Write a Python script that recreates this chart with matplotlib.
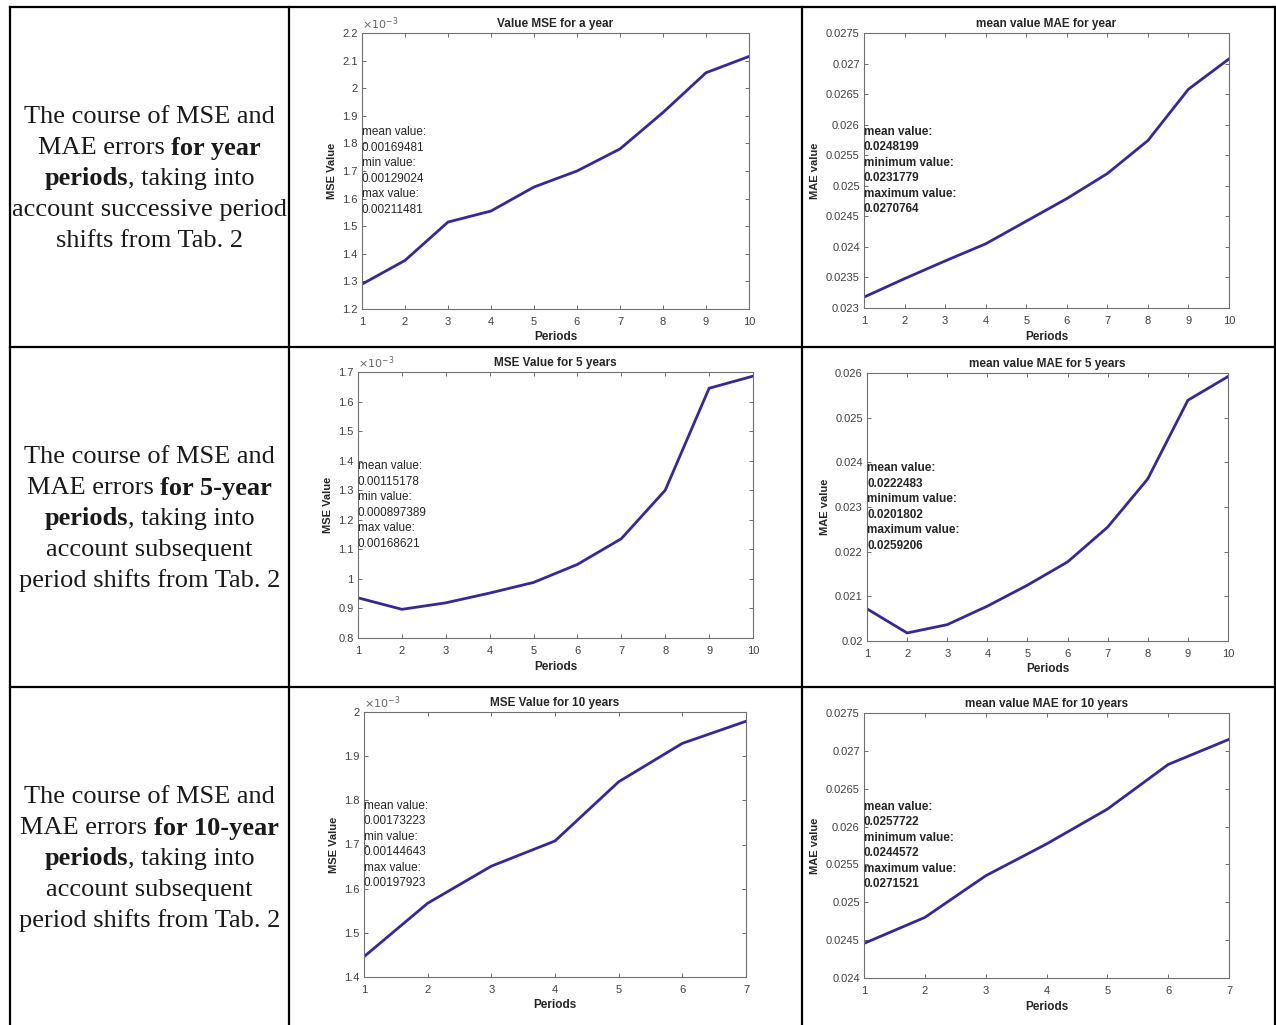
import numpy as np
import matplotlib
matplotlib.use("Agg")
import matplotlib.pyplot as plt
from matplotlib.lines import Line2D
from matplotlib.ticker import FuncFormatter

# data
periods_10 = [1, 2, 3, 4, 5, 6, 7, 8, 9, 10]
periods_7 = [1, 2, 3, 4, 5, 6, 7]

mse_1y = [0.001290, 0.001376, 0.001515, 0.001555, 0.001642, 0.001700, 0.001780, 0.001912, 0.002056, 0.002115]
mae_1y = [0.023178, 0.023480, 0.023770, 0.024050, 0.024420, 0.024790, 0.025200, 0.025740, 0.026580, 0.027076]
mse_5y = [0.000936, 0.000897, 0.000919, 0.000952, 0.000988, 0.001049, 0.001136, 0.001300, 0.001645, 0.001686]
mae_5y = [0.020720, 0.020180, 0.020366, 0.020780, 0.021250, 0.021770, 0.022550, 0.023630, 0.025390, 0.025921]
mse_10y = [0.001446, 0.001567, 0.001651, 0.001708, 0.001842, 0.001929, 0.001979]
mae_10y = [0.024457, 0.024800, 0.025350, 0.025770, 0.026230, 0.026820, 0.027152]

mse_stats_1y = ["0.00169481", "0.00129024", "0.00211481"]
mae_stats_1y = ["0.0248199", "0.0231779", "0.0270764"]
mse_stats_5y = ["0.00115178", "0.000897389", "0.00168621"]
mae_stats_5y = ["0.0222483", "0.0201802", "0.0259206"]
mse_stats_10y = ["0.00173223", "0.00144643", "0.00197923"]
mae_stats_10y = ["0.0257722", "0.0244572", "0.0271521"]

row_labels = [
    [[("The course of MSE and", False)],
     [("MAE errors ", False), ("for year", True)],
     [("periods", True), (", taking into", False)],
     [("account successive period", False)],
     [("shifts from Tab. 2", False)]],
    [[("The course of MSE and", False)],
     [("MAE errors ", False), ("for 5-year", True)],
     [("periods", True), (", taking into", False)],
     [("account subsequent", False)],
     [("period shifts from Tab. 2", False)]],
    [[("The course of MSE and", False)],
     [("MAE errors ", False), ("for 10-year", True)],
     [("periods", True), (", taking into", False)],
     [("account subsequent", False)],
     [("period shifts from Tab. 2", False)]],
]

W, H = 1276, 1025
plt.rcParams['font.family'] = ['Liberation Sans', 'DejaVu Sans']
fig = plt.figure(figsize=(W / 100, H / 100), dpi=100)

line_col = '#3b259c'
txt_col = '#262626'


def px_rect(l, r, t, b):
    return [l / W, 1 - b / H, (r - l) / W, (b - t) / H]


def make_plot(rect, x, y, title, ylabel, ylim, yticks, stats, kind):
    ax = fig.add_axes(rect)
    if kind == 'mse':
        ax.plot(x, np.array(y) * 1e3, color=line_col, lw=2)
        ax.set_ylim(ylim[0] * 1e3, ylim[1] * 1e3)
        ax.set_yticks(np.array(yticks) * 1e3)
        ax.yaxis.set_major_formatter(FuncFormatter(lambda v, p: '%g' % round(v, 4)))
        ax.text(0, 1.004, r'$\times10^{-3}$', transform=ax.transAxes, fontsize=8,
                color='#666666', ha='left', va='bottom')
        names = ["mean value:", "min value:", "max value:"]
        weight = 'normal'
    else:
        ax.plot(x, y, color=line_col, lw=2)
        ax.set_ylim(*ylim)
        ax.set_yticks(yticks)
        ax.yaxis.set_major_formatter(FuncFormatter(lambda v, p: '%g' % round(v, 6)))
        names = ["mean value:", "minimum value:", "maximum value:"]
        weight = 'bold'
    ax.set_xlim(x[0], x[-1])
    ax.set_xticks(x)
    ax.set_title(title, fontsize=8.5, fontweight='bold', color=txt_col, pad=4)
    ax.set_xlabel('Periods', fontsize=8.5, fontweight='bold', color=txt_col, labelpad=3)
    ax.set_ylabel(ylabel, fontsize=8, fontweight='bold', color=txt_col, labelpad=4)
    ax.tick_params(direction='in', top=True, right=True, labelsize=8,
                   labelcolor='#404040', color='#555555', length=3, width=0.6, pad=3)
    ax.tick_params(axis='x', pad=6)
    for s in ax.spines.values():
        s.set_color('#707070')
        s.set_linewidth(0.8)
    lines = []
    for n, v in zip(names, stats):
        lines += [n, v]
    ax.text(0, 0.5, '\n'.join(lines), transform=ax.transAxes, ha='left', va='center',
            fontsize=8.5, fontweight=weight, color=txt_col, linespacing=1.38)
    return ax


make_plot(px_rect(362, 749, 33, 309), periods_10, mse_1y, 'Value MSE for a year', 'MSE Value',
          (0.0012, 0.0022), np.arange(12, 23) / 10000, mse_stats_1y, 'mse')
make_plot(px_rect(864, 1229, 33, 308), periods_10, mae_1y, 'mean value MAE for year', 'MAE value',
          (0.023, 0.0275), np.arange(230, 276, 5) / 10000, mae_stats_1y, 'mae')
make_plot(px_rect(358, 753, 372, 638), periods_10, mse_5y, 'MSE Value for 5 years', 'MSE Value',
          (0.0008, 0.0017), np.arange(8, 18) / 10000, mse_stats_5y, 'mse')
make_plot(px_rect(867, 1228, 373, 641), periods_10, mae_5y, 'mean value MAE for 5 years', 'MAE value',
          (0.020, 0.026), np.arange(20, 27) / 1000, mae_stats_5y, 'mae')
make_plot(px_rect(364, 746, 712, 977), periods_7, mse_10y, 'MSE Value for 10 years', 'MSE Value',
          (0.0014, 0.0020), np.arange(14, 21) / 10000, mse_stats_10y, 'mse')
make_plot(px_rect(864, 1229, 713, 978), periods_7, mae_10y, 'mean value MAE for 10 years', 'MAE value',
          (0.024, 0.0275), np.arange(240, 276, 5) / 10000, mae_stats_10y, 'mae')


# table grid
def hline(y, x0, x1):
    fig.add_artist(Line2D([x0 / W, x1 / W], [1 - y / H, 1 - y / H], color='black', lw=1.6))


def vline(x, y0, y1):
    fig.add_artist(Line2D([x / W, x / W], [1 - y0 / H, 1 - y1 / H], color='black', lw=1.6))


for yy in [7, 347, 687]:
    hline(yy, 10, 1275)
for xx in [10, 289, 802, 1275]:
    vline(xx, 7, 1025)

# left column text, bold pieces laid out one after another and centred
r = fig.canvas.get_renderer()
row_centers = [179, 519, 859]
cx = 149.5
step = 30.8
for rc, label in zip(row_centers, row_labels):
    n = len(label)
    for i, pieces in enumerate(label):
        yc = rc + (i - (n - 1) / 2) * step
        arts = []
        for s, b in pieces:
            t = fig.text(0, 1 - yc / H, s, fontsize=19, family='Liberation Serif',
                         fontweight='bold' if b else 'normal', color='#1a1a1a',
                         ha='left', va='center')
            arts.append(t)
        widths = [a.get_window_extent(r).width for a in arts]
        x0 = cx - sum(widths) / 2
        for a, w in zip(arts, widths):
            a.set_x(x0 / W)
            x0 += w

fig.savefig('out.png', dpi=100, facecolor='white')
